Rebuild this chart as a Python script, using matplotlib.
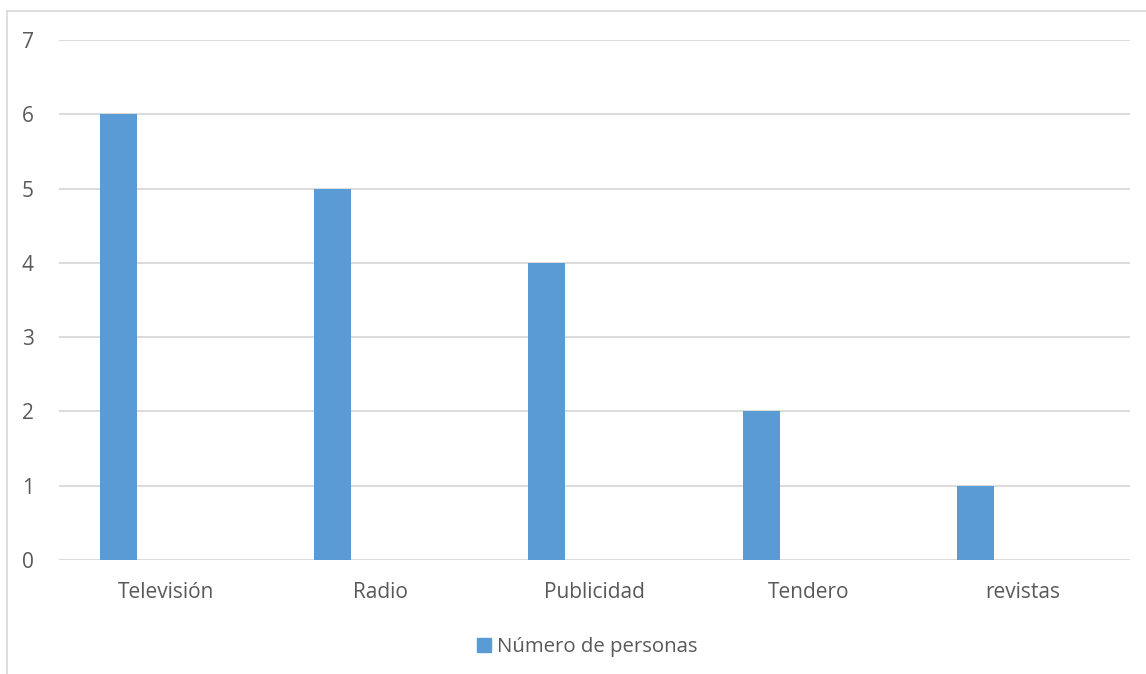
import numpy as np
import matplotlib.pyplot as plt
from matplotlib.patches import Rectangle

categories = ["Televisión", "Radio", "Publicidad", "Tendero", "revistas"]
personas = [6, 5, 4, 2, 1]
series_name = "Número de personas"

bar_color = "#5b9bd5"
text_color = "#595959"
grid_color = "#d9d9d9"

plt.rcParams["font.family"] = ["Open Sans", "DejaVu Sans"]

fig = plt.figure(figsize=(11.46, 6.74), dpi=100)
ax = fig.add_axes([59 / 1146, 1 - 560 / 674, (1130 - 59) / 1146, 520 / 674])

# chart frame line along top and left
fig.add_artist(plt.Line2D([7 / 1146, 7 / 1146], [0, 1 - 11 / 674],
                          color=grid_color, lw=1.2, transform=fig.transFigure))
fig.add_artist(plt.Line2D([7 / 1146, 1], [1 - 11 / 674, 1 - 11 / 674],
                          color=grid_color, lw=1.2, transform=fig.transFigure))

x = np.arange(len(categories))
ax.bar(x - 0.222, personas, width=0.173, color=bar_color, zorder=3)

ax.set_xlim(-0.5, len(categories) - 0.5)
ax.set_ylim(0, 7)
ax.set_yticks(range(0, 8))
ax.set_xticks(x)
ax.set_xticklabels(categories)

for y in range(0, 8):
    ax.axhline(y, color=grid_color, lw=1.3, zorder=1)

for s in ax.spines.values():
    s.set_visible(False)
ax.tick_params(axis="both", length=0, labelsize=15, colors=text_color)
ax.tick_params(axis="y", pad=18)
ax.tick_params(axis="x", pad=16)

leg = fig.legend(
    handles=[Rectangle((0, 0), 1, 1, color=bar_color)],
    labels=[series_name],
    loc="center", bbox_to_anchor=(587 / 1146, 1 - 647 / 674),
    frameon=False, fontsize=14.7, handlelength=0.7, handleheight=0.7,
    handletextpad=0.3,
)
for t in leg.get_texts():
    t.set_color(text_color)

fig.savefig("out.png", dpi=100)
